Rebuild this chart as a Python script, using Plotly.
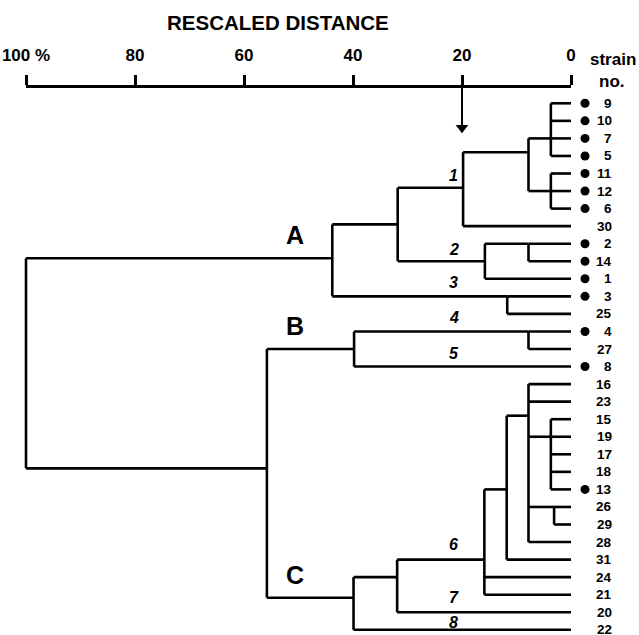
import plotly.graph_objects as go

# ---------------- data ----------------
leaf_order = ['9', '10', '7', '5', '11', '12', '6', '30', '2', '14', '1', '3', '25',
              '4', '27', '8', '16', '23', '15', '19', '17', '18', '13', '26', '29',
              '28', '31', '24', '21', '20', '22']
marked_strains = ['9', '10', '7', '5', '11', '12', '6', '2', '14', '1', '3', '4', '8', '13']

# internal nodes (children listed before parents)
node_names = ['n1', 'n2', 'n3', 'n4', 'n5', 'n6', 'n7', 'n9', 'n8', 'n10', 'n11',
              'n17', 'n18', 'n16', 'n15', 'n14', 'n13', 'nC', 'n12', 'root']
node_dist = [3.7, 3.7, 7.8, 19.8, 7.8, 15.8, 31.8, 11.7, 43.8, 7.8, 39.8,
             3.7, 3.1, 7.8, 11.8, 15.9, 31.9, 39.9, 55.8, 100.0]
node_children = [
    ['9', '10', '7', '5'], ['11', '12', '6'], ['n1', 'n2'], ['n3', '30'],
    ['2', '14'], ['n5', '1'], ['n4', 'n6'], ['3', '25'], ['n7', 'n9'],
    ['4', '27'], ['n10', '8'],
    ['15', '19', '17', '18', '13'], ['26', '29'], ['16', '23', 'n17', 'n18', '28'],
    ['n16', '31'], ['n15', '24', '21'], ['n14', '20'], ['n13', '22'],
    ['n11', 'nC'], ['n8', 'n12'],
]
# row (in leaf units) at which each node's link to its parent is drawn
node_link_row = [2, 5, 2.79, 4.81, 8, 9, 6.9, 11, 8.83, 13, 14,
                 19, 23, 17.8, 22, 26, 27, 28.17, 20.8, None]

tick_vals = [100, 80, 60, 40, 20, 0]
tick_text = ['100 %', '80', '60', '40', '20', '0']
cutoff = 20

cluster_labels = ['1', '2', '3', '4', '5', '6', '7', '8']
cluster_label_rows = [4.09, 8.33, 10.23, 12.23, 14.26, 25.16, 28.16, 29.58]
group_labels = ['A', 'B', 'C']
group_label_rows = [7.48, 12.68, 26.88]

# ---------------- build segments ----------------
row_of = {leaf: i for i, leaf in enumerate(leaf_order)}
dist_of = {leaf: 0.0 for leaf in leaf_order}
xs, ys = [], []
for name, d, ch, lr in zip(node_names, node_dist, node_children, node_link_row):
    crow = [row_of[c] for c in ch]
    xs += [d, d, None]
    ys += [min(crow), max(crow), None]
    for c in ch:
        xs += [dist_of[c], d, None]
        ys += [row_of[c], row_of[c], None]
    row_of[name] = lr
    dist_of[name] = d

FONT = 'Liberation Sans, Arial, Helvetica, sans-serif'

fig = go.Figure()
fig.add_trace(go.Scatter(x=xs, y=ys, mode='lines',
                         line=dict(color='black', width=2.6),
                         hoverinfo='skip', showlegend=False))

# markers for marked strains
mrows = [leaf_order.index(s) for s in marked_strains]
fig.add_trace(go.Scatter(x=[-2.57] * len(mrows), y=mrows, mode='markers',
                         marker=dict(color='black', size=9),
                         hoverinfo='skip', showlegend=False))

# cutoff arrow
fig.add_trace(go.Scatter(x=[cutoff, cutoff], y=[-0.99, 1.3], mode='lines',
                         line=dict(color='black', width=2),
                         hoverinfo='skip', showlegend=False))
fig.add_trace(go.Scatter(x=[cutoff], y=[1.4], mode='markers',
                         marker=dict(symbol='triangle-down', size=11, color='black'),
                         hoverinfo='skip', showlegend=False))

# invisible trace to carry the top distance axis
fig.add_trace(go.Scatter(x=[100, 0], y=[None, None], xaxis='x2', yaxis='y',
                         mode='markers', marker=dict(size=0, opacity=0),
                         hoverinfo='skip', showlegend=False))

ann = []
for i, leaf in enumerate(leaf_order):
    ann.append(dict(x=-7.76, y=i, text='<b>%s</b>' % leaf, xref='x', yref='y',
                    xanchor='right', yanchor='middle', showarrow=False, borderpad=0,
                    font=dict(family=FONT, size=13.5, color='black')))
for t, r in zip(cluster_labels, cluster_label_rows):
    ann.append(dict(x=21.5, y=r, text='<b><i>%s</i></b>' % t, xref='x', yref='y',
                    xanchor='center', yanchor='middle', showarrow=False, borderpad=0,
                    font=dict(family=FONT, size=16, color='black')))
for t, r in zip(group_labels, group_label_rows):
    ann.append(dict(x=50.6, y=r, text='<b>%s</b>' % t, xref='x', yref='y',
                    xanchor='center', yanchor='middle', showarrow=False,
                    font=dict(family=FONT, size=25, color='black')))
ann.append(dict(x=-7.7, y=-2.47, text='<b>strain</b>', xref='x', yref='y',
                xanchor='center', yanchor='middle', showarrow=False,
                font=dict(family=FONT, size=17, color='black')))
ann.append(dict(x=-7.45, y=-1.27, text='<b>no.</b>', xref='x', yref='y',
                xanchor='center', yanchor='middle', showarrow=False,
                font=dict(family=FONT, size=17, color='black')))
ann.append(dict(x=277.8 / 639, y=1 - 23 / 635, text='<b>RESCALED DISTANCE</b>',
                xref='paper', yref='paper', xanchor='center', yanchor='middle',
                showarrow=False, font=dict(family=FONT, size=20.5, color='black')))

fig.update_layout(
    width=639, height=635,
    margin=dict(l=0, r=0, t=0, b=0, autoexpand=False),
    paper_bgcolor='white', plot_bgcolor='rgba(0,0,0,0)',
    showlegend=False,
    xaxis=dict(range=[100 + 26 / 5.45, 100 - 613 / 5.45], visible=False,
               domain=[0, 1], automargin=False),
    yaxis=dict(range=[(635 - 103.3) / 17.55, -103.3 / 17.55], visible=False,
               automargin=False),
    xaxis2=dict(domain=[26 / 639, 571 / 639], range=[100, 0], anchor='free',
                position=1 - 86 / 635, side='top', showline=True, linecolor='black',
                linewidth=2.5, ticks='outside', ticklen=10, tickwidth=2.5,
                tickcolor='black', tickvals=tick_vals, ticktext=tick_text,
                tickfont=dict(family=FONT, size=17, color='black', weight='bold'),
                ticklabelstandoff=7, showgrid=False, zeroline=False,
                automargin=False),
    annotations=ann,
)

fig.write_html('out.html', config={'displayModeBar': False},
               post_script="document.body.style.margin='0px';"
                           "document.body.style.overflow='hidden';")
